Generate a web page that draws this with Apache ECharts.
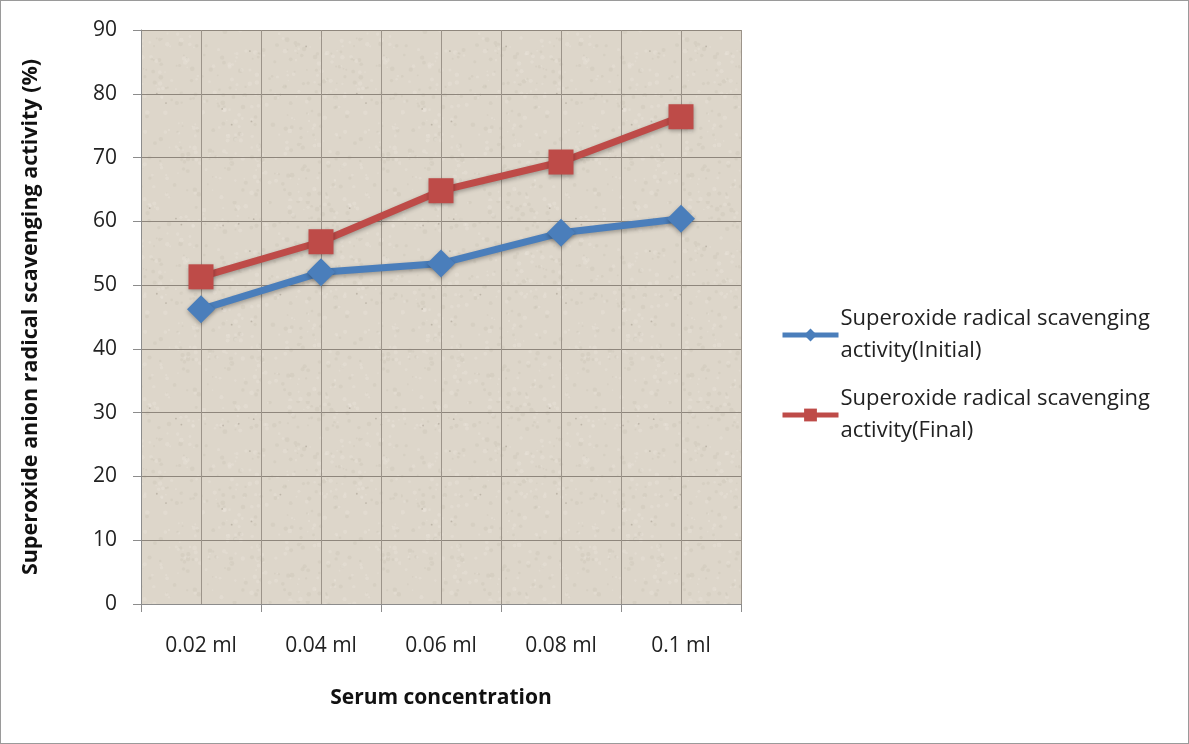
<!DOCTYPE html>
<html>
<head>
<meta charset="utf-8">
<script src="https://cdn.jsdelivr.net/npm/echarts@6/dist/echarts.min.js"></script>
<style>
html,body{margin:0;padding:0;background:#fff;}
#wrap{position:absolute;left:0;top:0;width:1187px;height:742px;border:1px solid #9a9a9a;}
#chart{width:1187px;height:742px;}
</style>
</head>
<body>
<div id="wrap"><div id="chart"></div></div>
<script>
// Serum concentration categories
const categories = ['0.02 ml', '0.04 ml', '0.06 ml', '0.08 ml', '0.1 ml'];
// Scavenging activity (%)
const initialValues = [46.2, 52.0, 53.4, 58.2, 60.4];
const finalValues = [51.3, 56.8, 64.8, 69.3, 76.4];
const seriesNames = [
  'Superoxide radical scavenging activity(Initial)',
  'Superoxide radical scavenging activity(Final)'
];
const yTicks = { min: 0, max: 90, interval: 10 };

const font = 'Open Sans, Lato, sans-serif';

// Softly speckled parchment-style fill for the plot area
function makeTexture() {
  const c = document.createElement('canvas');
  c.width = 200; c.height = 200;
  const g = c.getContext('2d');
  g.fillStyle = '#ddd6ca';
  g.fillRect(0, 0, 200, 200);
  let s = 12345;
  const next = () => { s = (s * 1103515245 + 12345) & 0x7fffffff; return s / 0x7fffffff; };
  for (let i = 0; i < 500; i++) {
    const x = next() * 200, y = next() * 200, r = 0.8 + next() * 1.6;
    const light = next() > 0.45;
    g.fillStyle = light ? 'rgba(236,230,220,0.35)' : 'rgba(185,175,160,0.18)';
    g.beginPath(); g.arc(x, y, r, 0, Math.PI * 2); g.fill();
  }
  for (let i = 0; i < 14; i++) {
    const x = next() * 200, y = next() * 200;
    g.fillStyle = 'rgba(130,120,105,0.35)';
    g.beginPath(); g.arc(x, y, 0.9, 0, Math.PI * 2); g.fill();
  }
  return c;
}

const chart = echarts.init(document.getElementById('chart'));

chart.setOption({
  animation: false,
  textStyle: { fontFamily: font },
  grid: {
    left: 140, right: 447, top: 29, bottom: 139,
    show: true, backgroundColor: { image: makeTexture(), repeat: 'repeat' }, borderWidth: 0
  },
  legend: {
    orient: 'vertical',
    left: 779, top: 302,
    padding: 0,
    itemWidth: 56, itemHeight: 16, itemGap: 16,
    lineStyle: { width: 5 },
    textStyle: { fontSize: 22, color: '#222', lineHeight: 32, fontFamily: font, padding: [0, 0, 0, -3] },
    formatter: function (name) {
      return name.replace(' activity', '\nactivity');
    },
    data: seriesNames
  },
  xAxis: [{
    type: 'category',
    data: categories,
    boundaryGap: true,
    axisLine: { lineStyle: { color: '#8c8c8c', width: 1 } },
    axisTick: { show: true, length: 8, lineStyle: { color: '#8c8c8c' } },
    axisLabel: { fontSize: 21, color: '#222', margin: 32 },
    splitLine: { show: true, lineStyle: { color: '#9c948a', width: 1 } },
    name: 'Serum concentration',
    nameLocation: 'middle',
    nameGap: 84,
    nameTextStyle: { fontSize: 21, fontWeight: 'bold', color: '#111' }
  }, {
    // half-category gridlines through category centres
    type: 'value',
    min: 0, max: 10, interval: 1,
    position: 'bottom',
    axisLine: { show: false },
    axisTick: { show: false },
    axisLabel: { show: false },
    splitLine: { show: true, lineStyle: { color: '#9c948a', width: 1 } }
  }],
  yAxis: {
    type: 'value',
    min: yTicks.min, max: yTicks.max, interval: yTicks.interval,
    axisLine: { show: true, lineStyle: { color: '#8c8c8c' } },
    axisTick: { show: true, length: 8, lineStyle: { color: '#8c8c8c' } },
    axisLabel: { fontSize: 21, color: '#222', margin: 24 },
    splitLine: { show: true, lineStyle: { color: '#8e867c', width: 1 } },
    name: 'Superoxide anion radical scavenging activity (%)',
    nameLocation: 'middle',
    nameGap: 99,
    nameTextStyle: { fontSize: 21.5, fontWeight: 'bold', color: '#111' }
  },
  series: [{
    name: seriesNames[0],
    type: 'line',
    xAxisIndex: 0,
    data: initialValues,
    symbol: 'diamond',
    symbolSize: 28,
    lineStyle: { color: '#4a7ebb', width: 7, shadowColor: 'rgba(0,0,0,0.3)', shadowBlur: 4, shadowOffsetY: 2 },
    itemStyle: { color: '#4a7ebb', shadowColor: 'rgba(0,0,0,0.3)', shadowBlur: 4, shadowOffsetY: 2 }
  }, {
    name: seriesNames[1],
    type: 'line',
    xAxisIndex: 0,
    data: finalValues,
    symbol: 'rect',
    symbolSize: 25,
    lineStyle: { color: '#be4b48', width: 7, shadowColor: 'rgba(0,0,0,0.3)', shadowBlur: 4, shadowOffsetY: 2 },
    itemStyle: { color: '#be4b48', shadowColor: 'rgba(0,0,0,0.3)', shadowBlur: 4, shadowOffsetY: 2 }
  }]
});
</script>
</body>
</html>
